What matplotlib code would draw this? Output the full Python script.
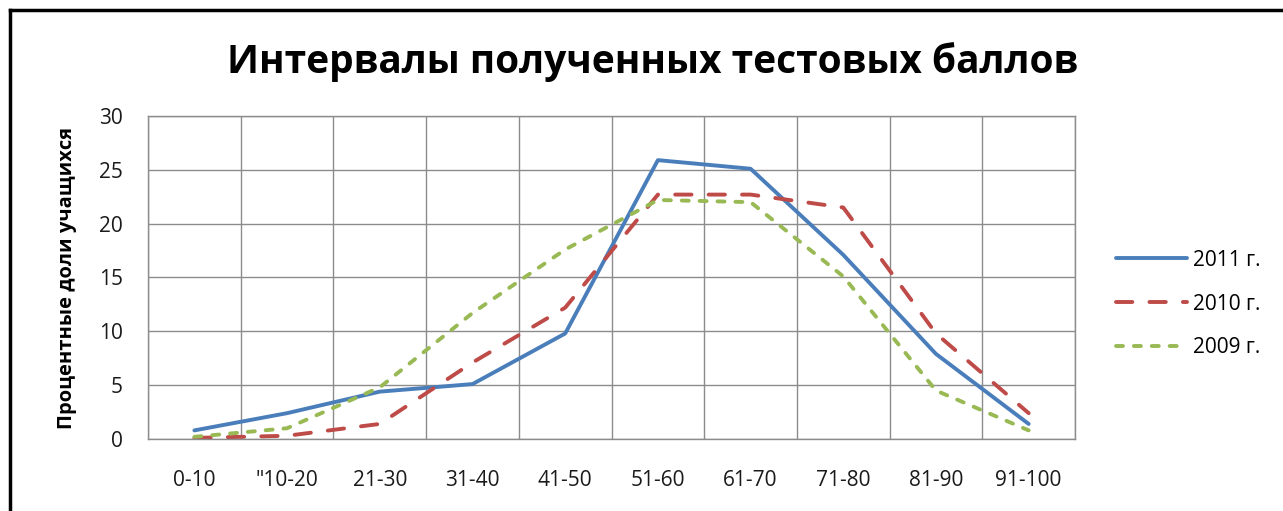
import matplotlib
matplotlib.use('Agg')
import matplotlib.pyplot as plt
from matplotlib.lines import Line2D
import numpy as np

categories = ['0-10', '"10-20', '21-30', '31-40', '41-50',
              '51-60', '61-70', '71-80', '81-90', '91-100']
y2011 = [0.8, 2.4, 4.4, 5.1, 9.8, 25.9, 25.1, 17.1, 7.9, 1.4]
y2010 = [0.1, 0.3, 1.4, 7.1, 12.2, 22.7, 22.7, 21.5, 9.8, 2.4]
y2009 = [0.2, 1.0, 4.8, 11.7, 17.6, 22.2, 22.0, 15.1, 4.5, 0.8]
series_names = ['2011 г.', '2010 г.', '2009 г.']

plt.rcParams['font.family'] = ['Open Sans', 'DejaVu Sans']

fig = plt.figure(figsize=(12.83, 5.11), dpi=100)
ax = fig.add_axes([0.1154, 0.1409, 0.7225, 0.6321])

x = np.arange(len(categories))
lw = 2.8
ax.plot(x, y2011, '-', color='#4A7EBB', lw=lw, label=series_names[0],
        solid_joinstyle='round', solid_capstyle='round')
ax.plot(x, y2010, color='#BE4B48', lw=lw, label=series_names[1],
        linestyle=(0, (4.2, 4.4)), dash_capstyle='round', dash_joinstyle='round')
ax.plot(x, y2009, color='#98B954', lw=lw, label=series_names[2],
        linestyle=(0, (1.8, 2.8)), dash_capstyle='round', dash_joinstyle='round')

ax.set_xlim(-0.5, len(categories) - 0.5)
ax.set_ylim(0, 30)
ax.set_yticks(range(0, 31, 5))
ax.set_xticks(x)
ax.set_xticklabels(categories)
ax.set_xticks(np.arange(-0.5, len(categories)), minor=True)
ax.grid(False)
ax.grid(True, which='minor', axis='x', color='#8c8c8c', lw=1)
ax.grid(True, which='major', axis='y', color='#8c8c8c', lw=1)
ax.set_axisbelow(True)
ax.tick_params(which='both', length=0)
ax.tick_params(axis='x', labelsize=15, pad=22, colors='#1a1a1a')
ax.tick_params(axis='y', labelsize=15, pad=18, colors='#1a1a1a')
for s in ax.spines.values():
    s.set_color('#8c8c8c')
    s.set_linewidth(1)

ax.set_ylabel('Процентные доли учащихся', fontsize=14.5, fontweight='bold', labelpad=16)
fig.text(0.509, 0.878, 'Интервалы полученных тестовых баллов',
         ha='center', va='center', fontsize=28, fontweight='bold')

ax.legend(loc='center left', bbox_to_anchor=(0.8698, 0.405),
          bbox_transform=fig.transFigure, frameon=False,
          borderaxespad=0, borderpad=0,
          fontsize=15, handlelength=3.4, labelspacing=1.1, handletextpad=0.3)

# outer frame (only top and left visible in the picture)
fig.add_artist(Line2D([0.0078, 0.0078], [0, 0.98], transform=fig.transFigure,
                      color='black', lw=2.5))
fig.add_artist(Line2D([0.0078, 1], [0.98, 0.98], transform=fig.transFigure,
                      color='black', lw=2.5))

plt.savefig('out.png', dpi=100)
